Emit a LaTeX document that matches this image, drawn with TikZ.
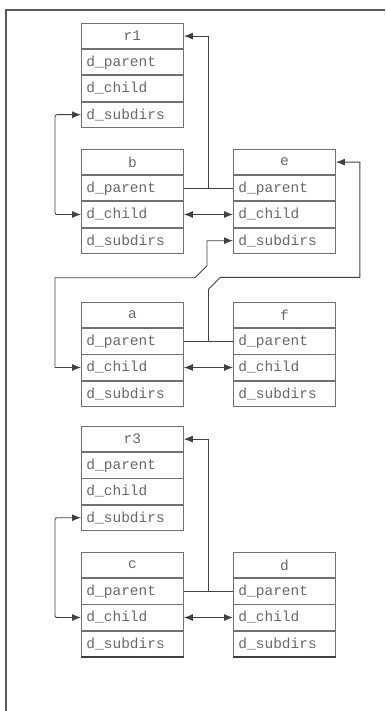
\documentclass[tikz,border=0pt]{standalone}
\usepackage{fontspec}
\setmonofont{Liberation Mono}
\usetikzlibrary{arrows.meta,calc}
\definecolor{boxline}{HTML}{707070}
\definecolor{txt}{HTML}{686868}
\definecolor{conn}{HTML}{404040}
\tikzset{
  rowbox/.style={draw=boxline, line width=0.9pt, minimum width=102pt, minimum height=25.3pt,
    inner xsep=5pt, inner ysep=0pt, text width=92pt, text=txt,
    font=\fontsize{14.5}{16}\selectfont\ttfamily},
  arr/.style={draw=conn, line width=0.9pt, -{Latex[length=9pt,width=7pt]}},
  dbl/.style={draw=conn, line width=0.9pt, {Latex[length=9pt,width=7pt]}-{Latex[length=9pt,width=7pt]}},
  plain/.style={draw=conn, line width=0.9pt},
  frame/.style={draw=black!65, line width=1.2pt}
}
\newcommand\recbox[4]{%
  \node[rowbox, align=center, anchor=north west] (#1t) at (#2,#3) {#4};
  \node[rowbox, align=left, anchor=north] (#1p) at (#1t.south) {d\_parent};
  \node[rowbox, align=left, anchor=north] (#1c) at (#1p.south) {d\_child};
  \node[rowbox, align=left, anchor=north] (#1s) at (#1c.south) {d\_subdirs};
}
\begin{document}
\begin{tikzpicture}[x=1pt, y=-1pt]
\useasboundingbox (0,0) rectangle (385,711);
\draw[frame] (6,711) -- (6,10) -- (385,10);

\recbox{r1}{81}{23}{r1}
\recbox{b}{81}{149}{b}
\recbox{e}{233}{149}{e}
\recbox{a}{81}{302}{a}
\recbox{f}{233}{302}{f}
\recbox{r3}{81}{426}{r3}
\recbox{c}{81}{552}{c}
\recbox{d}{233}{552}{d}

% group 1
\draw[plain] (bp.east) -- (ep.west);
\coordinate (bem) at ($(bp.east)!0.5!(ep.west)$);
\draw[arr] (bem) |- (r1t.east);
\draw[dbl, rounded corners=2pt] (r1s.west) -- ++(-26,0) |- (bc.west);
\draw[dbl] (bc.east) -- (ec.west);

% group 2
\draw[plain] (ap.east) -- (fp.west);
\coordinate (afm) at ($(ap.east)!0.5!(fp.west)$);
\coordinate (eside) at ($(et.east)+(24,0)$);
\draw[arr] (afm) -- ++(0,-52) -- ++(12,-12) -| (eside) -- (et.east);
\coordinate (aside) at ($(ac.west)+(-26,0)$);
\draw[dbl] (es.west) -- ++(-26,0) -- ++(0,25) -- ++(-12,12) -| (aside) -- (ac.west);
\draw[dbl] (ac.east) -- (fc.west);

% group 3
\draw[plain] (cp.east) -- (dp.west);
\coordinate (cdm) at ($(cp.east)!0.5!(dp.west)$);
\draw[arr] (cdm) |- (r3t.east);
\draw[dbl, rounded corners=2pt] (r3s.west) -- ++(-26,0) |- (cc.west);
\draw[dbl] (cc.east) -- (dc.west);

\draw[draw=black!75, line width=1.6pt] (cs.south west) -- (cs.south east);
\draw[draw=black!75, line width=1.6pt] (ds.south west) -- (ds.south east);
\end{tikzpicture}
\end{document}
